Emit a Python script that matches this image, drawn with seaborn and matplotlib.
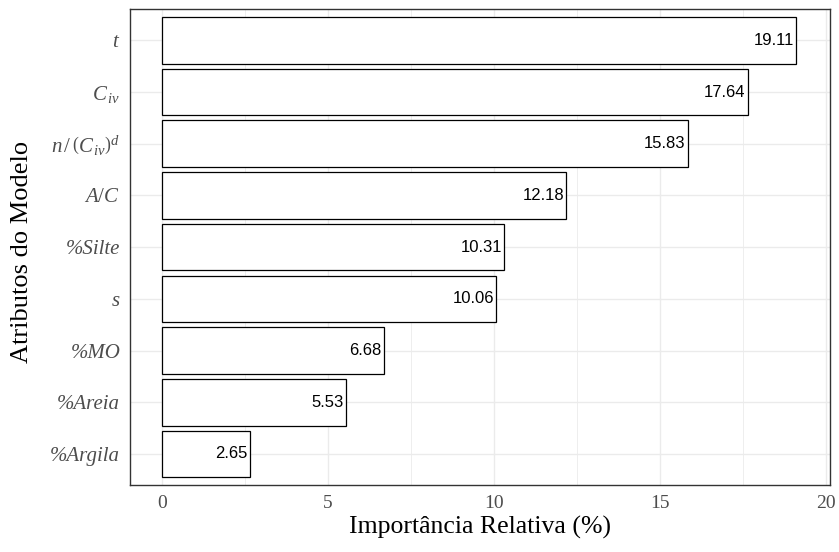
import matplotlib
matplotlib.use("Agg")
import matplotlib.pyplot as plt
import seaborn as sns
import pandas as pd
from matplotlib.ticker import MultipleLocator

# Relative importance of each model attribute (%)
atributos = [r"$t$", r"$C_{\,iv}$", r"$n\,/\,\left(C_{\,iv}\right)^{d}$", r"$A/C$",
             "%Silte", r"$s$", "%MO", "%Areia", "%Argila"]
importancia = [19.11, 17.64, 15.83, 12.18, 10.31, 10.06, 6.68, 5.53, 2.65]

df = pd.DataFrame({"atributo": atributos, "importancia": importancia})

sns.set_theme(style="white")
plt.rcParams["font.family"] = ["Liberation Serif", "DejaVu Serif"]
plt.rcParams["mathtext.fontset"] = "custom"
plt.rcParams["mathtext.rm"] = "Liberation Serif"
plt.rcParams["mathtext.it"] = "Liberation Serif:italic"

fig = plt.figure(figsize=(8.39, 5.52), dpi=100)
ax = fig.add_axes([130 / 839, 1 - 485 / 552, 700 / 839, 475.7 / 552])

sns.barplot(data=df, x="importancia", y="atributo", orient="h",
            color="white", edgecolor="black", linewidth=0.9,
            width=0.9, saturation=1, ax=ax, zorder=3)

for i, v in enumerate(importancia):
    ax.annotate(f"{v:.2f}", xy=(v, i), xytext=(-1.5, 0), textcoords="offset points",
                ha="right", va="center", fontsize=12,
                family="Liberation Sans", color="black", zorder=4)

ax.set_xlim(-0.96, 20.12)
ax.set_ylim(8.6, -0.6)
ax.xaxis.set_major_locator(MultipleLocator(5))
ax.xaxis.set_minor_locator(MultipleLocator(2.5))

ax.grid(True, which="major", color="#EBEBEB", linewidth=1.0, zorder=0)
ax.grid(True, which="minor", axis="x", color="#EBEBEB", linewidth=0.6, zorder=0)
ax.set_axisbelow(True)

for s in ax.spines.values():
    s.set_color("#333333")
    s.set_linewidth(1.0)

ax.tick_params(axis="both", which="major", direction="out", length=4,
               width=0.9, color="#333333", labelcolor="#4D4D4D", pad=3)
ax.tick_params(axis="x", which="minor", length=0)
ax.tick_params(axis="x", labelsize=14)
ax.tick_params(axis="y", labelsize=15)
for lab in ax.get_yticklabels():
    lab.set_fontstyle("italic")

ax.set_xlabel("Importância Relativa (%)", fontsize=18.5, color="black", labelpad=3)
ax.set_ylabel("Atributos do Modelo", fontsize=19, color="black", labelpad=6)
ax.yaxis.set_label_coords(-0.138, 0.49)

fig.savefig("out.png", dpi=100)
